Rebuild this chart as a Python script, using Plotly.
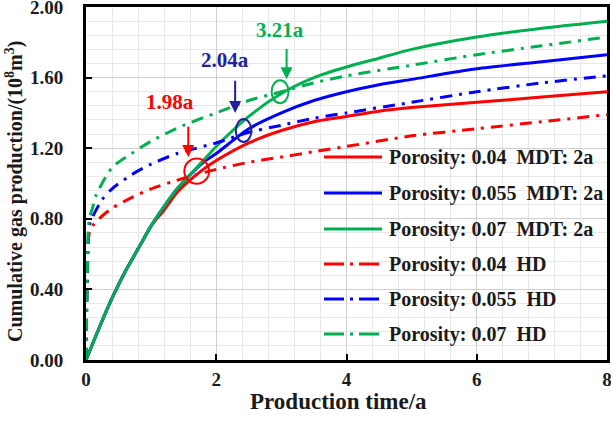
import plotly.graph_objects as go

# ---------------- data ----------------
t_mdt = [0, 0.2, 0.4, 0.6, 0.8, 1.0, 1.2, 1.4, 1.6, 1.8, 2.0, 2.5, 3.0, 3.5, 4.0, 4.5, 5.0, 6.0, 7.0, 8.0]
mdt_004 = [0, 0.18, 0.35, 0.50, 0.63, 0.76, 0.85, 0.95, 1.02, 1.08, 1.13, 1.23, 1.30, 1.35, 1.38, 1.41, 1.43, 1.46, 1.49, 1.52]
mdt_0055 = [0, 0.18, 0.35, 0.50, 0.63, 0.76, 0.87, 0.97, 1.05, 1.12, 1.17, 1.31, 1.40, 1.47, 1.52, 1.56, 1.59, 1.65, 1.69, 1.73]
mdt_007 = [0, 0.18, 0.35, 0.50, 0.63, 0.76, 0.87, 0.97, 1.05, 1.13, 1.21, 1.38, 1.51, 1.60, 1.66, 1.71, 1.76, 1.83, 1.88, 1.92]

t_hd_004 = [0, 0.02, 0.05, 0.1, 0.2, 0.4, 0.7, 1.0, 1.5, 2.0, 2.5, 3.0, 3.5, 4.0, 5.0, 6.0, 7.0, 8.0]
hd_004 = [0, 0.45, 0.72, 0.76, 0.80, 0.86, 0.92, 0.97, 1.03, 1.08, 1.12, 1.15, 1.18, 1.21, 1.27, 1.31, 1.35, 1.39]
t_hd_0055 = [0, 0.02, 0.05, 0.1, 0.25, 0.4, 0.7, 1.0, 1.4, 2.0, 2.5, 3.0, 3.5, 4.0, 5.0, 6.0, 7.0, 8.0]
hd_0055 = [0, 0.50, 0.76, 0.81, 0.91, 0.97, 1.05, 1.11, 1.17, 1.23, 1.29, 1.33, 1.37, 1.40, 1.46, 1.52, 1.57, 1.61]
t_hd_007 = [0, 0.02, 0.05, 0.1, 0.15, 0.4, 0.7, 1.0, 1.5, 2.0, 2.5, 3.0, 3.5, 4.0, 5.0, 6.0, 7.0, 8.0]
hd_007 = [0, 0.50, 0.80, 0.86, 0.93, 1.09, 1.17, 1.24, 1.33, 1.40, 1.47, 1.52, 1.57, 1.61, 1.67, 1.73, 1.78, 1.83]

names = ["Porosity: 0.04  MDT: 2a", "Porosity: 0.055  MDT: 2a", "Porosity: 0.07  MDT: 2a",
         "Porosity: 0.04  HD", "Porosity: 0.055  HD", "Porosity: 0.07  HD"]

mdt_labels = ["1.98a", "2.04a", "3.21a"]

x_title = "Production time/a"
y_title = "Cumulative gas production/(10<sup>8</sup>m<sup>3</sup>)"

RED, BLUE, GREEN, NAVY = "#FF0000", "#0000FF", "#00B050", "#2020A0"
FONT = "Liberation Serif"
TXT = "#1a1a1a"
DASHDOT = "12px,7px,3px,7px"
LEG_DASHDOT = "20px,6px,3px,6px"

fig = go.Figure()
series = [
    (t_mdt, mdt_004, RED, "solid", 3),
    (t_mdt, mdt_0055, BLUE, "solid", 3),
    (t_mdt, mdt_007, GREEN, "solid", 3),
    (t_hd_004, hd_004, RED, DASHDOT, 3),
    (t_hd_0055, hd_0055, BLUE, DASHDOT, 3),
    (t_hd_007, hd_007, GREEN, DASHDOT, 3),
]
for i, (x, y, c, d, w) in enumerate(series):
    fig.add_trace(go.Scatter(x=x, y=y, mode="lines", name=names[i], showlegend=False,
                             line=dict(color=c, dash=d, width=w, shape="spline", smoothing=0.7)))

# ---------------- manual legend (plot pixel geometry -> data coords) ----------------
PX_L, PX_W, PY_B, PY_H = 86.0, 521.0, 360.0, 353.0
def dx(px):
    return (px - PX_L) / PX_W * 8.0
def dy(py):
    return (PY_B - py) / PY_H * 2.0

row_py = [157, 193, 229, 264, 299, 334]
for i, (x, y, c, d, w) in enumerate(series):
    yy = dy(row_py[i])
    fig.add_shape(type="line", xref="x", yref="y", x0=dx(324), x1=dx(382), y0=yy, y1=yy,
                  line=dict(color=c, width=3, dash="solid" if d == "solid" else LEG_DASHDOT))
    fig.add_annotation(x=dx(387), y=yy, xref="x", yref="y", xanchor="left", yanchor="middle",
                       text="<b>%s</b>" % names[i].replace("  ", "\u00a0 "), showarrow=False,
                       font=dict(family=FONT, size=20, color=TXT))

# markers (circles / ellipses) at crossing points
ellipses = [(1.70, 1.07, 0.19, 0.071, RED), (2.42, 1.30, 0.12, 0.065, NAVY), (2.98, 1.52, 0.13, 0.065, GREEN)]
for cx, cy, rx, ry, c in ellipses:
    fig.add_shape(type="circle", xref="x", yref="y", x0=cx - rx, x1=cx + rx, y0=cy - ry, y1=cy + ry,
                  line=dict(color=c, width=2))

# arrows and labels
arrows = [(1.57, 1.15, 1.33, RED, 1.29, 1.46), (2.29, 1.40, 1.59, NAVY, 2.14, 1.70),
          (3.08, 1.59, 1.77, GREEN, 2.98, 1.87)]
for (ax_, tip, tail, c, lx, ly), lab in zip(arrows, mdt_labels):
    fig.add_annotation(x=ax_, y=tip, ax=ax_, ay=tail, axref="x", ayref="y", xref="x", yref="y",
                       text="", showarrow=True, arrowhead=2, arrowsize=1.2, arrowwidth=2, arrowcolor=c)
    fig.add_annotation(x=lx, y=ly, xref="x", yref="y", text="<b>%s</b>" % lab, showarrow=False,
                       font=dict(family=FONT, size=21, color=c))

# axis titles as annotations (precise placement)
fig.add_annotation(xref="paper", yref="paper", x=(338 - PX_L) / PX_W, y=(PY_B - 401) / PY_H,
                   text="<b>%s</b>" % x_title, showarrow=False, xanchor="center", yanchor="middle",
                   font=dict(family=FONT, size=23, color=TXT))
fig.add_annotation(xref="paper", yref="paper", x=(14 - PX_L) / PX_W, y=(PY_B - 192) / PY_H,
                   text="<b>%s</b>" % y_title, showarrow=False, textangle=-90,
                   xanchor="center", yanchor="middle",
                   font=dict(family=FONT, size=20, color=TXT))

fig.update_layout(
    width=611, height=424,
    margin=dict(l=86, r=4, t=7, b=64),
    paper_bgcolor="white", plot_bgcolor="white",
    font=dict(family=FONT, size=19, color=TXT),
    showlegend=False,
)
common = dict(showgrid=True, gridcolor="#CFCFCF", gridwidth=1,
              showline=True, linecolor="black", linewidth=3, mirror=True,
              ticks="inside", ticklen=6, tickwidth=2, tickcolor="black", zeroline=False,
              tickfont=dict(family=FONT, size=19, color=TXT), tickprefix="<b>", ticksuffix="</b>",
              automargin=False, ticklabeloverflow="allow")
fig.update_xaxes(range=[0, 8], dtick=2, tick0=0,
                 minor=dict(dtick=0.4, showgrid=True, gridcolor="#E8E8E8", gridwidth=1),
                 ticklabelstandoff=0, **common)
fig.update_yaxes(range=[0, 2], dtick=0.4, tick0=0, tickformat=".2f",
                 minor=dict(dtick=0.08, showgrid=True, gridcolor="#E8E8E8", gridwidth=1),
                 ticklabelstandoff=16, **common)

fig.write_html("out.html", config={"displayModeBar": False},
               post_script="document.body.style.margin='0';document.body.style.overflow='hidden';")
